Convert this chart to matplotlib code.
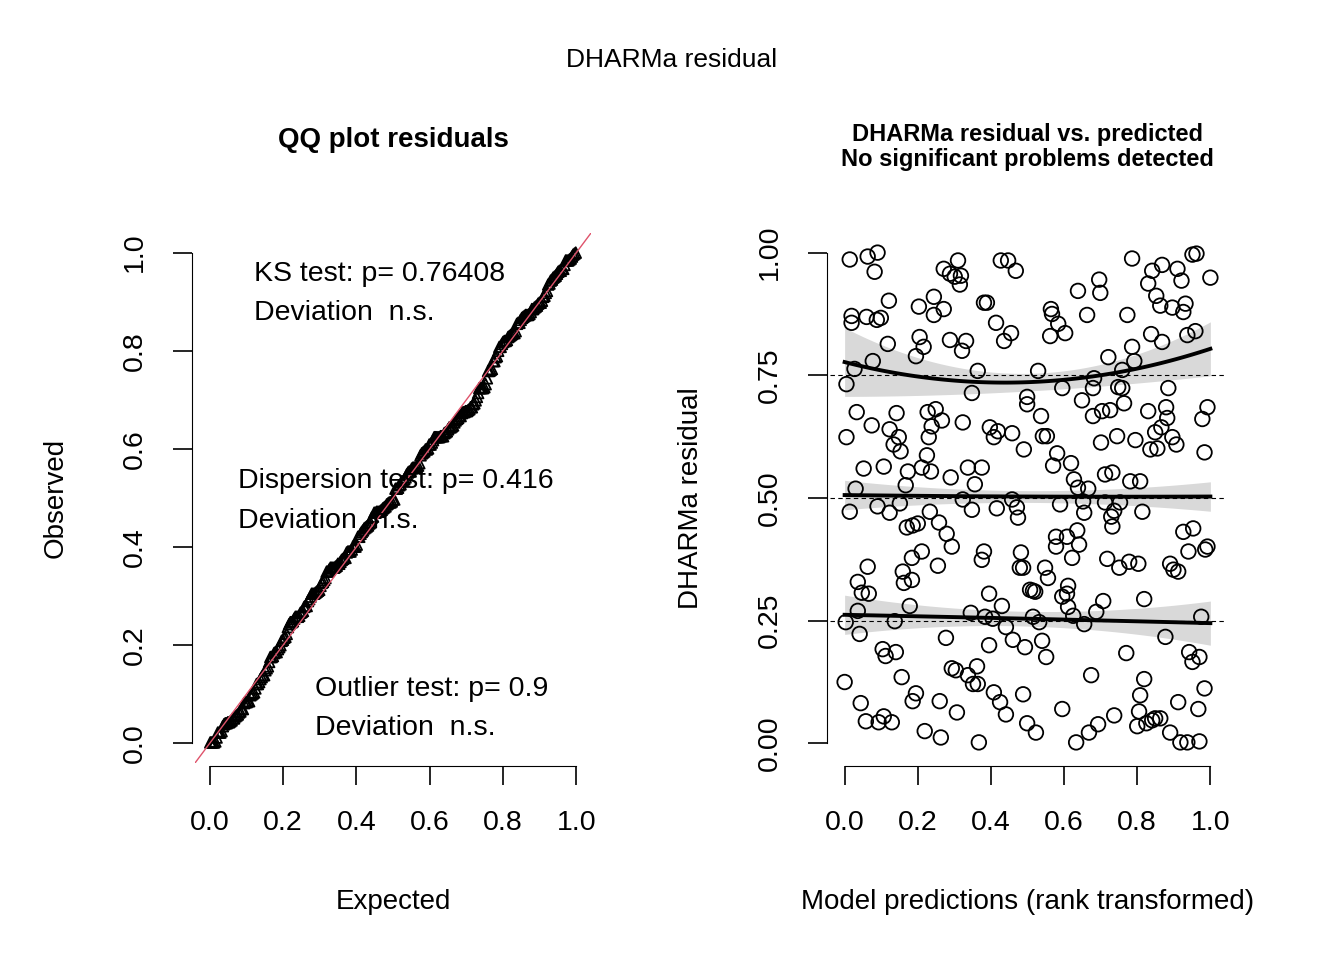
import numpy as np
import matplotlib
matplotlib.use("Agg")
import matplotlib.pyplot as plt

plt.rcParams['font.family'] = ['Liberation Sans', 'DejaVu Sans']

# residual (rank-transformed prediction, scaled residual) pairs
pred = [.014,.063,.090,.082,.271,.310,.288,.318,.301,.315,.427,.447,.468,.121,.244,.203,.271,.244,.381,.389,
        .019,.019,.060,.088,.099,.414,.455,.436,.205,.216,.195,.118,.288,.332,.321,.077,.027,.364,.005,.348,
        .499,.499,.033,.142,.074,.123,.148,.134,.153,.227,.249,.266,.238,.230,.323,.397,.419,.408,.458,.005,
        .490,.225,.052,.107,.173,.211,.236,.337,.375,.290,.030,.167,.356,
        .786,.951,.962,.868,.841,.910,.921,1.0,.696,.699,.638,.830,.852,.863,.896,.932,.926,.564,.567,.584,
        .562,.603,.663,.773,.838,.868,.937,.959,.721,.786,.792,.759,.529,.682,.595,.679,.748,.759,.885,.537,
        .649,.679,.704,.726,.764,.830,.879,.882,.992,.978,.542,.553,.701,.745,.795,.849,.866,.836,.855,.896,
        .907,.984,.581,.570,.619,.712,.732,.627,.638,.666,.781,.808,
        .014,.090,.123,.151,.233,.323,.348,.416,.458,.471,.474,.170,.186,.200,.258,.279,.293,.211,.184,.255,
        .381,.375,.482,.479,.488,.063,.159,.184,.162,.036,.047,.066,.395,.430,.507,.178,.036,.003,.137,.345,
        .384,.405,.441,.041,.277,.395,.460,.493,.104,.112,.140,.293,.304,.337,.362,.351,.364,.156,.000,.408,
        .425,.441,.488,.195,.186,.260,.307,.044,.058,.093,.107,.129,.219,.263,.367,.499,
        .589,.652,.655,.712,.753,.737,.729,.732,.814,.578,.578,.608,.636,.641,.622,.926,.953,.940,.992,.986,
        .718,.751,.778,.803,.890,.899,.912,.548,.556,.515,.521,.611,.595,.608,.611,.707,.688,.625,.655,.515,
        .532,.819,.975,.540,.551,.877,.770,.942,.970,.951,.674,.819,.984,.808,.912,.967,.595,.737,.805,.849,
        .863,.841,.800,.825,.693,.668,.633,.890,.918,.937,.970,.523]
resid = [.986,.992,1.000,.961,.967,.984,.957,.953,.951,.935,.984,.984,.963,.902,.910,.890,.885,.873,.898,.898,
         .871,.857,.869,.863,.867,.857,.836,.820,.828,.808,.789,.814,.822,.820,.800,.779,.763,.759,.732,.714,
         .706,.691,.675,.673,.648,.640,.624,.609,.595,.675,.681,.658,.646,.624,.654,.644,.636,.624,.632,.624,
         .599,.587,.560,.564,.554,.562,.554,.562,.562,.542,.519,.526,.528,
         .988,.996,.998,.975,.963,.967,.943,.949,.945,.918,.922,.937,.912,.892,.888,.896,.879,.885,.875,.855,
         .830,.836,.873,.873,.834,.818,.832,.840,.787,.808,.779,.761,.759,.744,.724,.724,.726,.724,.724,.667,
         .699,.667,.677,.679,.693,.677,.685,.663,.685,.661,.626,.626,.613,.626,.618,.634,.644,.599,.601,.624,
         .609,.593,.591,.566,.571,.548,.552,.538,.521,.519,.534,.534,
         .472,.483,.470,.489,.472,.497,.476,.479,.497,.481,.460,.440,.444,.448,.450,.427,.401,.391,.378,.362,
         .391,.374,.389,.358,.358,.360,.350,.333,.327,.329,.307,.305,.305,.280,.313,.280,.270,.247,.249,.266,
         .258,.254,.237,.223,.215,.200,.211,.196,.192,.178,.186,.153,.149,.139,.157,.121,.121,.135,.125,.104,
         .084,.059,.100,.102,.086,.086,.063,.082,.045,.043,.055,.043,.025,.012,.002,.041,
         .487,.493,.470,.491,.491,.474,.462,.442,.472,.421,.401,.421,.434,.405,.378,.431,.438,.391,.401,.395,
         .376,.358,.370,.366,.366,.354,.350,.358,.337,.311,.309,.321,.299,.305,.278,.290,.268,.260,.243,.258,
         .247,.294,.258,.209,.176,.217,.184,.186,.176,.166,.139,.131,.112,.098,.084,.070,.070,.057,.065,.051,
         .051,.047,.035,.041,.039,.022,.002,.022,.002,.002,.004,.022]

# quantile regression curves (control points)
q_x = [0.0, 0.5, 1.0]
q75 = [0.777, 0.736, 0.804]; q75_w = [0.07, 0.018, 0.055]
q50 = [0.506, 0.503, 0.503]; q50_w = [0.03, 0.012, 0.03]
q25 = [0.262, 0.254, 0.245]; q25_w = [0.04, 0.015, 0.045]

fig = plt.figure(figsize=(13.44, 9.6), dpi=100)
fig.text(0.5, 1 - 60/960, "DHARMa residual", ha='center', va='center', fontsize=19)

def style(ax):
    for s in ['top', 'right']:
        ax.spines[s].set_visible(False)
    ax.spines['left'].set_bounds(0, 1)
    ax.spines['bottom'].set_bounds(0, 1)
    ax.spines['left'].set_position(('outward', 2))
    ax.spines['bottom'].set_position(('outward', 2))
    ax.tick_params(direction='out', length=14, width=1.2, labelsize=20.5, pad=18)
    for t in ax.get_yticklabels():
        t.set_rotation(90); t.set_va('center')

# ---- left QQ plot
axL = fig.add_axes([195/1344, 1 - 763/960, 396/1344, 530/960])
obs = np.sort(np.array(resid))
n = len(obs)
a = 3/8 if n <= 10 else 0.5
expd = (np.arange(1, n + 1) - a) / (n + 1 - 2 * a)
axL.scatter(expd, obs, marker='^', s=60, facecolors='none', edgecolors='black', linewidths=1.3, zorder=2)
axL.plot([-0.1, 1.1], [-0.1, 1.1], color='#DF536B', lw=1, zorder=3)
axL.set_xlim(-0.04, 1.04); axL.set_ylim(-0.04, 1.04)
axL.set_xticks([0, .2, .4, .6, .8, 1.0]); axL.set_yticks([0, .2, .4, .6, .8, 1.0])
axL.set_xticklabels(["0.0", "0.2", "0.4", "0.6", "0.8", "1.0"])
axL.set_yticklabels(["0.0", "0.2", "0.4", "0.6", "0.8", "1.0"])
style(axL)
axL.set_title("QQ plot residuals", fontsize=20, fontweight='bold', pad=62)
axL.set_xlabel("Expected", fontsize=20, labelpad=38)
axL.set_ylabel("Observed", fontsize=20, labelpad=38)
tk = dict(fontsize=20.5, va='center', ha='left', zorder=5)
axL.text(0.12, 0.957, "KS test: p= 0.76408", **tk)
axL.text(0.12, 0.876, "Deviation  n.s.", **tk)
axL.text(0.077, 0.535, "Dispersion test: p= 0.416", **tk)
axL.text(0.077, 0.454, "Deviation  n.s.", **tk)
axL.text(0.287, 0.110, "Outlier test: p= 0.9", **tk)
axL.text(0.287, 0.032, "Deviation  n.s.", **tk)

# ---- right residual vs predicted
axR = fig.add_axes([830/1344, 1 - 763/960, 395/1344, 530/960])
xs = np.linspace(0, 1, 100)
for yy, ww in [(q75, q75_w), (q50, q50_w), (q25, q25_w)]:
    c = np.polyfit(q_x, yy, 2); cw = np.polyfit(q_x, ww, 2)
    m = np.polyval(c, xs); w = np.polyval(cw, xs)
    axR.fill_between(xs, m - w, m + w, color='#D9D9D9', lw=0, zorder=1)
    axR.plot(xs, m, color='black', lw=2.8, zorder=3)
for h in [0.25, 0.5, 0.75]:
    axR.axhline(h, color='black', lw=0.8, ls=(0, (4, 3)), zorder=2)
axR.scatter(pred, resid, s=110, facecolors='none', edgecolors='black', linewidths=1.3, zorder=4)
axR.set_xlim(-0.04, 1.04); axR.set_ylim(-0.04, 1.04)
axR.set_xticks([0, .2, .4, .6, .8, 1.0]); axR.set_yticks([0, .25, .5, .75, 1.0])
axR.set_xticklabels(["0.0", "0.2", "0.4", "0.6", "0.8", "1.0"])
axR.set_yticklabels(["0.00", "0.25", "0.50", "0.75", "1.00"])
style(axR)
axR.set_title("DHARMa residual vs. predicted\nNo significant problems detected",
              fontsize=17, fontweight='bold', pad=48, linespacing=1.15)
axR.set_xlabel("Model predictions (rank transformed)", fontsize=20, labelpad=38)
axR.set_ylabel("DHARMa residual", fontsize=20, labelpad=38)

fig.savefig("out.png", dpi=100)
